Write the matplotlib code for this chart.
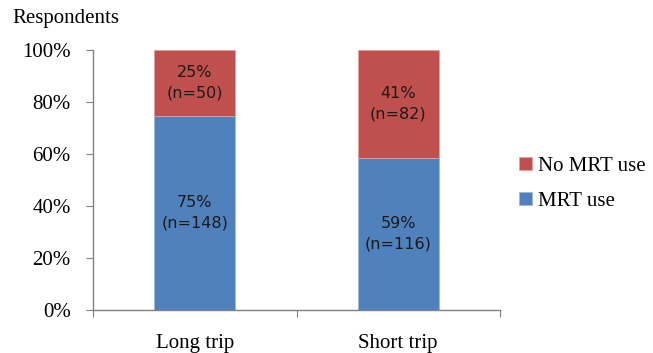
import numpy as np
import matplotlib.pyplot as plt
from matplotlib.ticker import PercentFormatter

# data
categories = ["Long trip", "Short trip"]
mrt_use = [148, 116]
no_mrt_use = [50, 82]
mrt_pct_labels = ["75%", "59%"]
no_mrt_pct_labels = ["25%", "41%"]

BLUE = "#4F81BD"
RED = "#C0504D"
SERIF = "Liberation Serif"

totals = np.array(mrt_use) + np.array(no_mrt_use)
mrt_share = np.array(mrt_use) / totals * 100
no_share = np.array(no_mrt_use) / totals * 100

fig = plt.figure(figsize=(6.53, 3.53), dpi=100)
ax = fig.add_axes([93 / 653, 1 - 310 / 353, 407 / 653, 260 / 353])

x = np.arange(len(categories))
b1 = ax.bar(x, mrt_share, width=0.4, color=BLUE, label="MRT use", edgecolor="#9DB7DA", linewidth=0.6)
b2 = ax.bar(x, no_share, width=0.4, bottom=mrt_share, color=RED, label="No MRT use", edgecolor="#E0A3A1", linewidth=0.6)

# labels inside bars
for i in range(len(x)):
    ax.text(x[i], mrt_share[i] / 2, f"{mrt_pct_labels[i]}\n(n={mrt_use[i]})",
            ha="center", va="center", fontsize=11.5, color="#1A1A1A", linespacing=1.5)
    ax.text(x[i], mrt_share[i] + no_share[i] / 2, f"{no_mrt_pct_labels[i]}\n(n={no_mrt_use[i]})",
            ha="center", va="center", fontsize=11.5, color="#1A1A1A", linespacing=1.5)

ax.set_xlim(-0.5, 1.5)
ax.set_ylim(0, 100)
ax.set_yticks(np.arange(0, 101, 20))
ax.yaxis.set_major_formatter(PercentFormatter(decimals=0))
ax.set_xticks([-0.5, 0.5, 1.5], minor=False)
ax.set_xticklabels([])
ax.set_xticks(x, minor=True)
ax.set_xticklabels(categories, minor=True)
ax.tick_params(axis="x", which="minor", length=0, pad=17)
ax.tick_params(axis="x", which="major", length=5, color="#808080", direction="out")
ax.tick_params(axis="y", length=5, color="#808080", direction="out", pad=11)

for lab in ax.get_yticklabels() + ax.get_xticklabels(minor=True):
    lab.set_fontfamily(SERIF)
    lab.set_fontsize(15)

for s in ["top", "right"]:
    ax.spines[s].set_visible(False)
for s in ["left", "bottom"]:
    ax.spines[s].set_color("#808080")
    ax.spines[s].set_linewidth(1.0)

fig.text(12 / 653, 1 - 18 / 353, "Respondents", fontfamily=SERIF, fontsize=15,
         ha="left", va="center")

handles = [b2, b1]
ax.legend(handles, ["No MRT use", "MRT use"], loc="center left",
          bbox_to_anchor=(509 / 653, 1 - 184 / 353), bbox_transform=fig.transFigure,
          frameon=False, prop={"family": SERIF, "size": 15},
          handlelength=0.6, handleheight=0.6, handletextpad=0.3, labelspacing=0.75,
          borderpad=0)

fig.savefig("out.png", dpi=100)
